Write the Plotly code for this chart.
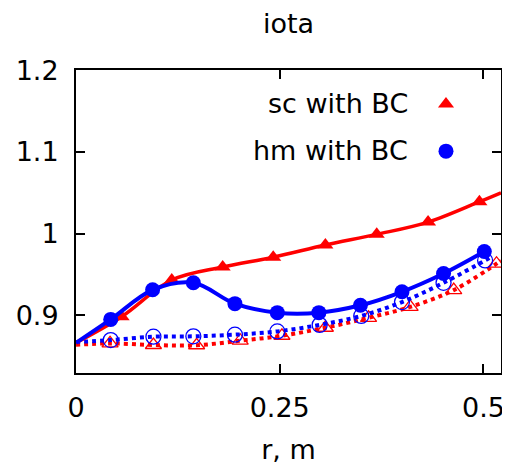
import plotly.graph_objects as go

# ---- data ----
sc_bc_x = [0.056, 0.1175, 0.180, 0.242, 0.306, 0.369, 0.432, 0.495]
sc_bc_y = [0.898, 0.943, 0.959, 0.971, 0.986, 0.999, 1.014, 1.039]
sc_bc_line_x = [0.0, 0.056, 0.1175, 0.180, 0.242, 0.306, 0.369, 0.432, 0.495, 0.5215]
sc_bc_line_y = [0.866, 0.898, 0.943, 0.959, 0.971, 0.986, 0.999, 1.014, 1.039, 1.050]

hm_bc_x = [0.0426, 0.094, 0.144, 0.195, 0.247, 0.298, 0.349, 0.400, 0.451, 0.501]
hm_bc_y = [0.8947, 0.931, 0.9396, 0.914, 0.903, 0.903, 0.912, 0.9286, 0.951, 0.978]
hm_bc_line_x = [0.0] + hm_bc_x + [0.506]
hm_bc_line_y = [0.866] + hm_bc_y + [0.981]

hm_x = [0.0426, 0.095, 0.144, 0.195, 0.247, 0.299, 0.350, 0.400, 0.451, 0.502]
hm_y = [0.8694, 0.8735, 0.874, 0.876, 0.880, 0.888, 0.899, 0.916, 0.9396, 0.967]
hm_line_x = [0.0] + hm_x + [0.509]
hm_line_y = [0.867] + hm_y + [0.971]

sc_x = [0.0418, 0.095, 0.148, 0.2015, 0.2527, 0.306, 0.359, 0.410, 0.4635, 0.516]
sc_y = [0.8653, 0.8633, 0.863, 0.8686, 0.8747, 0.8845, 0.8967, 0.910, 0.9306, 0.963]
sc_line_x = [0.0] + sc_x + [0.5215]
sc_line_y = [0.8635] + sc_y + [0.967]

x_ticks = [0, 0.25, 0.5]
x_tick_labels = ["0", "0.25", "0.5"]
y_ticks = [0.9, 1.0, 1.1, 1.2]
y_tick_labels = ["0.9", "1", "1.1", "1.2"]

legend_names = ["sc with BC", "hm with BC"]

RED = "#ff0000"
BLUE = "#0000ff"
FONT = "DejaVu Sans"
FS = 27

fig = go.Figure()

# dotted (no BC) curves
fig.add_trace(go.Scatter(x=sc_line_x, y=sc_line_y, mode="lines", line=dict(color=RED, width=4, dash="dot", shape="spline"), showlegend=False, hoverinfo="skip"))
fig.add_trace(go.Scatter(x=sc_x, y=sc_y, mode="markers", marker=dict(symbol="triangle-up-open", size=14, color=RED, line=dict(width=1.3)), showlegend=False))
fig.add_trace(go.Scatter(x=hm_line_x, y=hm_line_y, mode="lines", line=dict(color=BLUE, width=4, dash="dot", shape="spline"), showlegend=False, hoverinfo="skip"))
fig.add_trace(go.Scatter(x=hm_x, y=hm_y, mode="markers", marker=dict(symbol="circle-open", size=15, color=BLUE, line=dict(width=1.3)), showlegend=False))

# solid (with BC) curves
fig.add_trace(go.Scatter(x=sc_bc_line_x, y=sc_bc_line_y, mode="lines", line=dict(color=RED, width=3.5, shape="spline"), showlegend=False, hoverinfo="skip"))
fig.add_trace(go.Scatter(x=sc_bc_x, y=sc_bc_y, mode="markers", marker=dict(symbol="triangle-up", size=14, color=RED),
                         name="", legendgroup="a", showlegend=True))
fig.add_trace(go.Scatter(x=hm_bc_line_x, y=hm_bc_line_y, mode="lines", line=dict(color=BLUE, width=4, shape="spline"), showlegend=False, hoverinfo="skip"))
fig.add_trace(go.Scatter(x=hm_bc_x, y=hm_bc_y, mode="markers", marker=dict(symbol="circle", size=15, color=BLUE),
                         name="", legendgroup="b", showlegend=True))

axis_common = dict(showline=True, linecolor="black", linewidth=2, mirror="allticks",
                   ticks="inside", ticklen=9, tickwidth=2, tickcolor="black",
                   showgrid=False, zeroline=False, automargin=False,
                   tickfont=dict(family=FONT, size=FS, color="black"))

fig.update_xaxes(range=[0, 0.5215], tickvals=x_ticks, ticktext=x_tick_labels,
                 ticklabelstandoff=10,
                 title=dict(text="r, m", font=dict(family=FONT, size=FS, color="black"), standoff=18),
                 **axis_common)
fig.update_yaxes(range=[0.829, 1.2005], tickvals=y_ticks, ticktext=y_tick_labels,
                 ticklabelstandoff=10, **axis_common)

PH = 303.0
# legend text (right-aligned, left of symbol, like the original)
fig.add_annotation(xref="paper", yref="paper", x=0.785, y=1 - (103 - 70) / PH, text=legend_names[0],
                   showarrow=False, xanchor="right", yanchor="middle", font=dict(family=FONT, size=FS, color="black"))
fig.add_annotation(xref="paper", yref="paper", x=0.785, y=1 - (150 - 70) / PH, text=legend_names[1],
                   showarrow=False, xanchor="right", yanchor="middle", font=dict(family=FONT, size=FS, color="black"))

# the page body has an 8px margin, so the figure is laid out 8px up/left of the target picture
fig.update_layout(
    width=510, height=465,
    margin=dict(l=68, r=17, t=62, b=100, autoexpand=False),
    paper_bgcolor="white", plot_bgcolor="white",
    title=dict(text="iota", x=0.5, xref="paper", y=1 - 15.5 / 465, yref="container", yanchor="middle",
               font=dict(family=FONT, size=FS, color="black"), automargin=False),
    legend=dict(x=0.8235, y=1 - (80 - 70) / PH, xanchor="left", yanchor="top", bgcolor="rgba(0,0,0,0)",
                font=dict(family=FONT, size=FS), traceorder="grouped", tracegroupgap=9,
                itemwidth=30),
    showlegend=True,
)

fig.write_html("out.html")
